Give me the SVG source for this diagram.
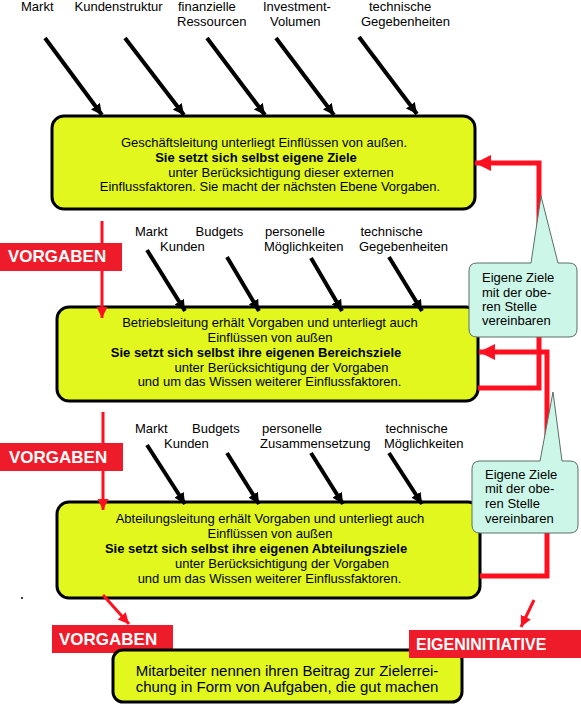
<svg xmlns="http://www.w3.org/2000/svg" width="581" height="705" viewBox="0 0 581 705">
<style>
text{font-family:"Liberation Sans",Arial,sans-serif;fill:#000}
.lbl{font-size:13px}
.bt{font-size:13px;text-anchor:middle}
.b{font-weight:bold}
.box{fill:#e1f71d;stroke:#000;stroke-width:3}
.blk{stroke:#000;stroke-width:4;fill:none}
.red{stroke:#ff1020;stroke-width:3;fill:none}
.fb{stroke:#ff1020;stroke-width:5;fill:none}
.call{fill:#ccf7e8;stroke:#5a6e68;stroke-width:1}
.tag{fill:#ee1c2a}
.tagt{font-weight:bold;fill:#fff}
</style>
<defs>
<marker id="ab" viewBox="0 0 10 10" refX="10" refY="5" markerWidth="11" markerHeight="11" markerUnits="userSpaceOnUse" orient="auto"><path d="M0,0 L10,5 L0,10 Z" fill="#000"/></marker>
<marker id="ar" viewBox="0 0 10 10" refX="10" refY="5" markerWidth="11" markerHeight="11" markerUnits="userSpaceOnUse" orient="auto"><path d="M0,0 L10,5 L0,10 Z" fill="#ff1020"/></marker>
<marker id="arb" viewBox="0 0 10 10" refX="10" refY="5" markerWidth="16" markerHeight="16" markerUnits="userSpaceOnUse" orient="auto"><path d="M0,0 L10,5 L0,10 Z" fill="#ff1020"/></marker>
</defs>
<rect width="581" height="705" fill="#fff"/>

<g id="labels-top">
<text class="lbl" x="21" y="11">Markt</text>
<text class="lbl" x="74.5" y="11">Kundenstruktur</text>
<text class="lbl" x="178" y="11">finanzielle</text>
<text class="lbl" x="177" y="26">Ressourcen</text>
<text class="lbl" x="263" y="11">Investment-</text>
<text class="lbl" x="270" y="26">Volumen</text>
<text class="lbl" x="369" y="11">technische</text>
<text class="lbl" x="361" y="26">Gegebenheiten</text>
</g>
<g id="labels-row2">
<text class="lbl" x="135" y="236">Markt</text>
<text class="lbl" x="195.5" y="236">Budgets</text>
<text class="lbl" x="160" y="251">Kunden</text>
<text class="lbl" x="265" y="236">personelle</text>
<text class="lbl" x="264" y="251">Möglichkeiten</text>
<text class="lbl" x="360.5" y="236">technische</text>
<text class="lbl" x="359" y="251">Gegebenheiten</text>
</g>
<g id="labels-row3">
<text class="lbl" x="135" y="433">Markt</text>
<text class="lbl" x="192" y="433">Budgets</text>
<text class="lbl" x="164" y="448">Kunden</text>
<text class="lbl" x="262" y="433">personelle</text>
<text class="lbl" x="260" y="448">Zusammensetzung</text>
<text class="lbl" x="385.5" y="433">technische</text>
<text class="lbl" x="384" y="448">Möglichkeiten</text>
</g>

<g id="geschaeftsleitung">
<rect class="box" x="52" y="116" width="423" height="93" rx="12"/>
<text class="bt" x="264" y="147">Geschäftsleitung unterliegt Einflüssen von außen.</text>
<text class="bt b" x="256" y="162">Sie setzt sich selbst eigene Ziele</text>
<text class="bt" x="281" y="177">unter Berücksichtigung dieser externen</text>
<text class="bt" x="270" y="191">Einflussfaktoren. Sie macht der nächsten Ebene Vorgaben.</text>
</g>
<g id="betriebsleitung">
<rect class="box" x="57" y="307" width="421" height="94" rx="12"/>
<text class="bt" x="270" y="327">Betriebsleitung erhält Vorgaben und unterliegt auch</text>
<text class="bt" x="270" y="342">Einflüssen von außen</text>
<text class="bt b" x="256" y="357">Sie setzt sich selbst ihre eigenen Bereichsziele</text>
<text class="bt" x="281.5" y="372">unter Berücksichtigung der Vorgaben</text>
<text class="bt" x="269.5" y="386">und um das Wissen weiterer Einflussfaktoren.</text>
</g>
<g id="abteilungsleitung">
<rect class="box" x="57" y="502" width="423" height="96" rx="12"/>
<text class="bt" x="270" y="523">Abteilungsleitung erhält Vorgaben und unterliegt auch</text>
<text class="bt" x="270" y="538">Einflüssen von außen</text>
<text class="bt b" x="256" y="553">Sie setzt sich selbst ihre eigenen Abteilungsziele</text>
<text class="bt" x="282" y="568">unter Berücksichtigung der Vorgaben</text>
<text class="bt" x="269.5" y="583">und um das Wissen weiterer Einflussfaktoren.</text>
</g>

<g id="connectors">
<line class="blk" x1="45" y1="38" x2="102" y2="115" marker-end="url(#ab)"/>
<line class="blk" x1="125" y1="38" x2="184" y2="115" marker-end="url(#ab)"/>
<line class="blk" x1="207" y1="38" x2="265" y2="115" marker-end="url(#ab)"/>
<line class="blk" x1="276" y1="38" x2="334" y2="115" marker-end="url(#ab)"/>
<line class="blk" x1="359" y1="37" x2="417" y2="114" marker-end="url(#ab)"/>
<line class="blk" x1="147" y1="250" x2="185" y2="311" marker-end="url(#ab)"/>
<line class="blk" x1="227" y1="257" x2="259" y2="311" marker-end="url(#ab)"/>
<line class="blk" x1="311" y1="258" x2="342" y2="311" marker-end="url(#ab)"/>
<line class="blk" x1="389" y1="257" x2="422" y2="311" marker-end="url(#ab)"/>
<line class="blk" x1="147" y1="445" x2="185" y2="504" marker-end="url(#ab)"/>
<line class="blk" x1="227" y1="453" x2="259" y2="504" marker-end="url(#ab)"/>
<line class="blk" x1="311" y1="453" x2="343" y2="504" marker-end="url(#ab)"/>
<line class="blk" x1="389" y1="453" x2="422" y2="504" marker-end="url(#ab)"/>
<line class="red" x1="102" y1="221" x2="102" y2="318" marker-end="url(#ar)"/>
<line class="red" x1="103" y1="412" x2="103" y2="510" marker-end="url(#ar)"/>
<line class="red" x1="103" y1="595" x2="129" y2="624" marker-end="url(#ar)"/>
<line class="red" x1="534" y1="600" x2="521" y2="627" marker-end="url(#ar)"/>
<polyline class="fb" points="478,388 539,388 539,163 475,163" marker-end="url(#arb)"/>
<polyline class="fb" points="480,576 547,576 547,352 479,352" marker-end="url(#arb)"/>
</g>

<g id="callout1">
<path class="call" d="M477,263 L531,263 L541,196 L558,263 L569,263 Q577,263 577,271 L577,329 Q577,337 569,337 L477,337 Q469,337 469,329 L469,271 Q469,263 477,263 Z"/>
<text class="lbl" x="482" y="282">Eigene Ziele</text>
<text class="lbl" x="482" y="297">mit der obe-</text>
<text class="lbl" x="482" y="311">ren Stelle</text>
<text class="lbl" x="482" y="325">vereinbaren</text>
</g>
<g id="callout2">
<path class="call" d="M480,461 L540,461 L553,392 L562,461 L570,461 Q578,461 578,469 L578,525 Q578,533 570,533 L480,533 Q472,533 472,525 L472,469 Q472,461 480,461 Z"/>
<text class="lbl" x="485" y="479">Eigene Ziele</text>
<text class="lbl" x="485" y="493">mit der obe-</text>
<text class="lbl" x="485" y="508">ren Stelle</text>
<text class="lbl" x="485" y="523">vereinbaren</text>
</g>

<g id="vorgaben1">
<rect class="tag" x="0" y="243" width="122" height="28"/>
<text class="tagt" x="8" y="262" font-size="17">VORGABEN</text>
</g>
<g id="vorgaben2">
<rect class="tag" x="0" y="443" width="123" height="28"/>
<text class="tagt" x="9" y="463" font-size="17">VORGABEN</text>
</g>
<g id="vorgaben3">
<rect class="tag" x="52" y="625" width="121" height="28"/>
<text class="tagt" x="59" y="644.5" font-size="17">VORGABEN</text>
</g>

<g id="mitarbeiter">
<rect class="box" x="113" y="650" width="349" height="52" rx="10"/>
<text class="bt" x="287" y="676" style="font-size:15px">Mitarbeiter nennen ihren Beitrag zur Zielerrei-</text>
<text class="bt" x="287" y="692" style="font-size:15px">chung in Form von Aufgaben, die gut machen</text>
</g>

<g id="eigeninitiative">
<rect class="tag" x="409" y="630" width="172" height="28"/>
<text class="tagt" x="416" y="650" font-size="16">EIGENINITIATIVE</text>
</g>
<rect x="21" y="597" width="2" height="2" fill="#444"/>
</svg>
